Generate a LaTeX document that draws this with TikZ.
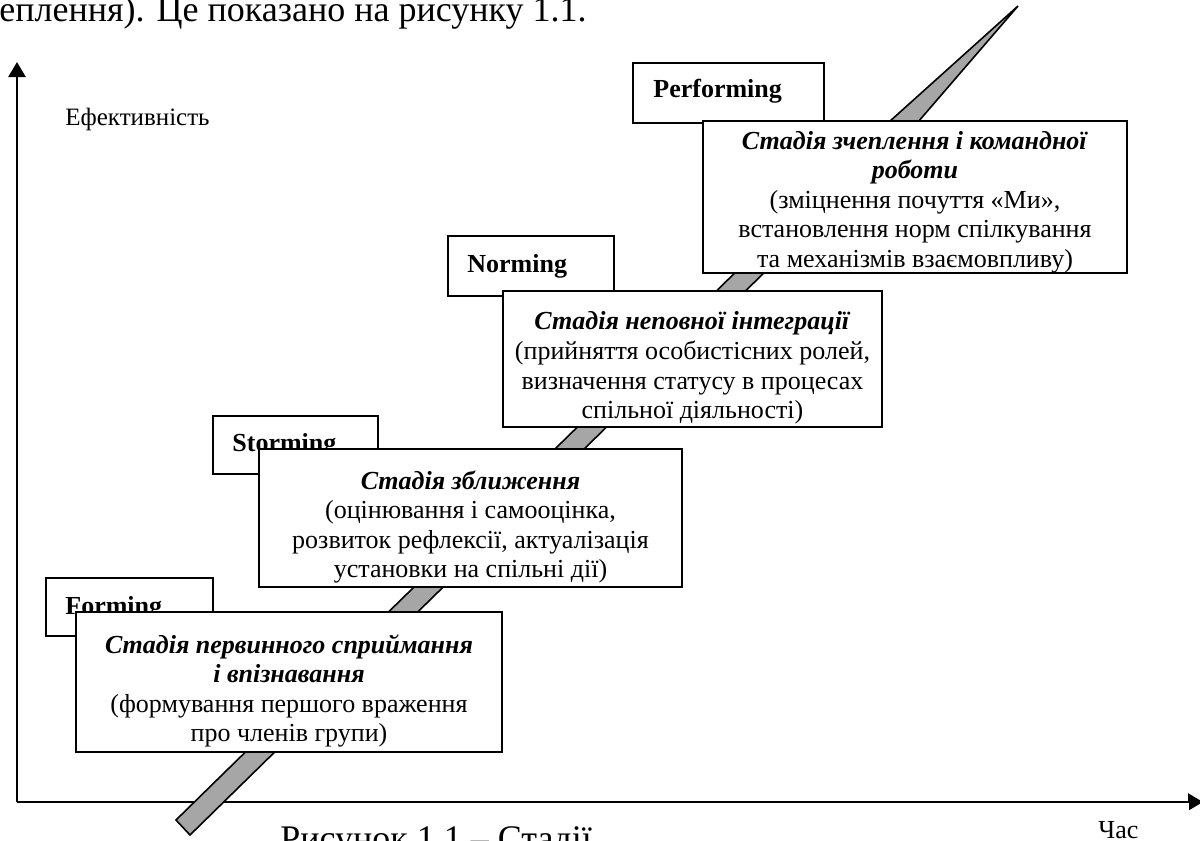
\documentclass[tikz,border=0pt]{standalone}
\usepackage{fontspec}
\setmainfont{Liberation Serif}
\usetikzlibrary{arrows.meta}
\definecolor{bandgray}{RGB}{166,166,166}
\begin{document}
\begin{tikzpicture}[x=0.5pt,y=-0.5pt,
  axisline/.style={line width=1.25pt, -{Triangle[length=7.5pt,width=8.5pt]}},
  bandshape/.style={draw=black, line width=0.8pt, fill=bandgray, line join=miter},
  lblbox/.style={draw=black, line width=0.8pt, fill=white, inner sep=0pt, anchor=north west},
  lbltext/.style={font=\fontsize{13}{15}\selectfont\bfseries, anchor=base west, inner sep=0pt},
  detailbox/.style={draw=black, line width=0.8pt, fill=white, inner sep=0pt},
  detailtext/.style={align=center, inner sep=0pt, font=\fontsize{13}{14.8}\selectfont},
  plain/.style={inner sep=0pt, anchor=base west}
]
\useasboundingbox (0,0) rectangle (1200,841);
\clip (0,0) rectangle (1200,841);

% page text around the figure
\node[plain, font=\fontsize{18}{20}\selectfont] (intro) at (-1,21) {еплення). Це показано на рисунку 1.1.};
\node[plain, font=\fontsize{18}{20}\selectfont] (caption) at (280,850.5) {Рисунок 1.1 – Стадії};

% axes
\coordinate (origin) at (17,802);
\coordinate (ytip) at (17,62);
\coordinate (xtip) at (1203,802);
\draw[axisline] (origin) -- (ytip);
\draw[axisline] (origin) -- (xtip);
\node[plain, font=\fontsize{12.5}{14}\selectfont] (ylabel) at (65,125) {Ефективність};
\node[fill=white, inner sep=0pt, anchor=north west, minimum width=56pt, minimum height=20pt] (xlabelbox) at (1077,802.4) {};
\node[plain, font=\fontsize{13}{15}\selectfont] (xlabel) at (1098,838) {Час};

% diagonal band
\coordinate (b1) at (176,820);
\coordinate (b2) at (190,835);
\coordinate (b3) at (918,122);
\coordinate (b4) at (1018,6);
\coordinate (b5) at (889,122);
\draw[bandshape] (b1) -- (b2) -- (b3) -- (b4) -- (b5) -- cycle;

% stage label boxes
\node[lblbox, minimum width=83.5pt, minimum height=29pt] (formingbox) at (45,577) {};
\node[lbltext] (formingtxt) at (65,614) {Forming};
\node[lblbox, minimum width=82.5pt, minimum height=29pt] (stormingbox) at (212,415) {};
\node[lbltext] (stormingtxt) at (232,451) {Storming};
\node[lblbox, minimum width=83pt, minimum height=30pt] (normingbox) at (447,235) {};
\node[lbltext] (normingtxt) at (467,272) {Norming};
\node[lblbox, minimum width=95.5pt, minimum height=30pt] (performingbox) at (632,62) {};
\node[lbltext] (performingtxt) at (653,97) {Performing};

% stage description boxes
\node[detailbox, minimum width=213pt, minimum height=70pt] (stage1box) at (289,682) {};
\node[detailtext] (stage1) at (289,691)
  {\textbf{\textit{Стадія первинного сприймання}}\\ \textbf{\textit{і впізнавання}}\\ (формування першого враження\\ про членів групи)};
\node[detailbox, minimum width=211.5pt, minimum height=69pt] (stage2box) at (470.5,518) {};
\node[detailtext] (stage2) at (470.5,527)
  {\textbf{\textit{Стадія зближення}}\\ (оцінювання і самооцінка,\\ розвиток рефлексії, актуалізація\\ установки на спільні дії)};
\node[detailbox, minimum width=189.5pt, minimum height=68pt] (stage3box) at (692.5,359) {};
\node[detailtext] (stage3) at (692.5,368)
  {\textbf{\textit{Стадія неповної інтеграції}}\\ (прийняття особистісних ролей,\\ визначення статусу в процесах\\ спільної діяльності)};
\node[detailbox, minimum width=212pt, minimum height=76pt] (stage4box) at (915,197) {};
\node[detailtext] (stage4) at (915,202)
  {\textbf{\textit{Стадія зчеплення і командної}}\\ \textbf{\textit{роботи}}\\ (зміцнення почуття «Ми»,\\ встановлення норм спілкування\\ та механізмів взаємовпливу)};
\end{tikzpicture}
\end{document}
